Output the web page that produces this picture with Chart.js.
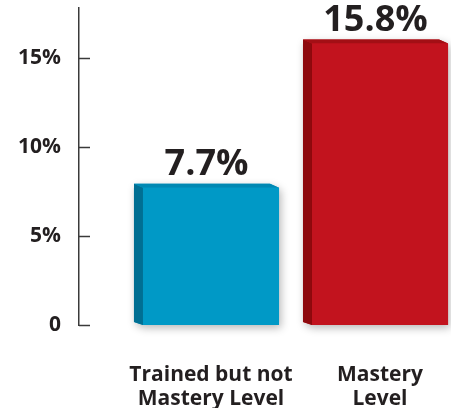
<!DOCTYPE html>
<html>
<head>
<meta charset="utf-8">
<script src="https://cdn.jsdelivr.net/npm/chart.js@4/dist/chart.umd.min.js"></script>
<style>
    html, body { margin: 0; padding: 0; background: #fff; }
    canvas { display: block; }
</style>
</head>
<body>
<canvas id="chart" width="451" height="408"></canvas>
<script>
// Share of students, by training level
const categories = [['Trained but not', 'Mastery Level'], ['Mastery', 'Level']];
const slots = [1, 2];
const shares = [7.7, 15.8];
const yTicks = [0, 5, 10, 15];

const frontColors = ['#0099c6', '#c2131e'];
const sideColors = ['#006f93', '#8e0a0e'];
const topColors = ['#0088b3', '#a30f15'];

const INK = '#231f20';
const FONT = '"Open Sans", sans-serif';
const DEPTH_X = 9;
const DEPTH_Y = 4;

// side + top faces behind each bar, with a soft drop shadow
const extrude = {
    id: 'extrude',
    beforeDatasetsDraw(chart) {
        const ctx = chart.ctx;
        chart.getDatasetMeta(0).data.forEach((bar, i) => {
            const { x, y, base, width } = bar.getProps(['x', 'y', 'base', 'width'], true);
            const l = x - width / 2, r = x + width / 2;

            ctx.save();
            ctx.shadowColor = 'rgba(0,0,0,0.28)';
            ctx.shadowBlur = 8;
            ctx.shadowOffsetX = 2;
            ctx.shadowOffsetY = 3;
            ctx.fillStyle = frontColors[i];
            ctx.beginPath();
            ctx.moveTo(l - DEPTH_X, y - DEPTH_Y);
            ctx.lineTo(r - DEPTH_X, y - DEPTH_Y);
            ctx.lineTo(r, y);
            ctx.lineTo(r, base);
            ctx.lineTo(l, base);
            ctx.lineTo(l - DEPTH_X, base - DEPTH_Y + 1);
            ctx.closePath();
            ctx.fill();
            ctx.restore();

            // left face
            ctx.fillStyle = sideColors[i];
            ctx.beginPath();
            ctx.moveTo(l - DEPTH_X, y - DEPTH_Y);
            ctx.lineTo(l, y);
            ctx.lineTo(l, base);
            ctx.lineTo(l - DEPTH_X, base - DEPTH_Y + 1);
            ctx.closePath();
            ctx.fill();

            // top face
            ctx.fillStyle = topColors[i];
            ctx.beginPath();
            ctx.moveTo(l - DEPTH_X, y - DEPTH_Y);
            ctx.lineTo(r - DEPTH_X, y - DEPTH_Y);
            ctx.lineTo(r, y);
            ctx.lineTo(l, y);
            ctx.closePath();
            ctx.fill();
        });
    }
};

// value labels over the bars
const valueLabels = {
    id: 'valueLabels',
    afterDatasetsDraw(chart) {
        const ctx = chart.ctx;
        ctx.save();
        ctx.font = 'bold 36px ' + FONT;
        ctx.fillStyle = INK;
        ctx.textAlign = 'center';
        ctx.textBaseline = 'alphabetic';
        chart.getDatasetMeta(0).data.forEach((bar, i) => {
            ctx.fillText(shares[i].toFixed(1) + '%', bar.x - DEPTH_X / 2, bar.y - 13);
        });
        ctx.restore();
    }
};

// short tick marks pointing into the plot
const innerTicks = {
    id: 'innerTicks',
    afterDraw(chart) {
        const ctx = chart.ctx;
        const y = chart.scales.y;
        ctx.save();
        ctx.strokeStyle = '#3a3a3a';
        ctx.lineWidth = 1.5;
        y.ticks.forEach((t, i) => {
            const py = Math.round(y.getPixelForTick(i)) + 0.5;
            ctx.beginPath();
            ctx.moveTo(y.right, py);
            ctx.lineTo(y.right + 11, py);
            ctx.stroke();
        });
        ctx.restore();
    }
};

new Chart(document.getElementById('chart'), {
    type: 'bar',
    data: {
        datasets: [{
            data: slots.map((s, i) => ({ x: s, y: shares[i] })),
            backgroundColor: frontColors,
            borderWidth: 0,
            barPercentage: 0.805,
            categoryPercentage: 1
        }]
    },
    plugins: [extrude, valueLabels, innerTicks],
    options: {
        responsive: false,
        animation: false,
        layout: { padding: { top: 8, right: 0, bottom: 0, left: 0 } },
        plugins: {
            legend: { display: false },
            tooltip: { enabled: false }
        },
        scales: {
            x: {
                type: 'linear',
                offset: false,
                min: 0.219,
                max: 2.42,
                afterBuildTicks: s => { s.ticks = slots.map(v => ({ value: v })); },
                afterFit: s => {
                    s.height = 83;
                    s.paddingLeft = 0;
                    s.paddingRight = 0;
                },
                grid: { display: false, drawTicks: false },
                border: { display: false },
                ticks: {
                    padding: 38,
                    color: INK,
                    font: { family: FONT, size: 21, weight: 'bold', lineHeight: 1.15 },
                    callback: v => categories[slots.indexOf(v)]
                }
            },
            y: {
                min: 0,
                max: 17.8,
                afterBuildTicks: s => { s.ticks = yTicks.map(v => ({ value: v })); },
                afterFit: s => {
                    s.width = 79;
                    s.paddingTop = 0;
                    s.paddingBottom = 0;
                },
                grid: { display: false, drawTicks: false },
                border: { display: true, color: '#3a3a3a', width: 1.5 },
                ticks: {
                    padding: 18,
                    color: INK,
                    font: { family: FONT, size: 21, weight: 'bold' },
                    callback: v => v === 0 ? '0' : v + '%'
                }
            }
        }
    }
});
</script>
</body>
</html>
